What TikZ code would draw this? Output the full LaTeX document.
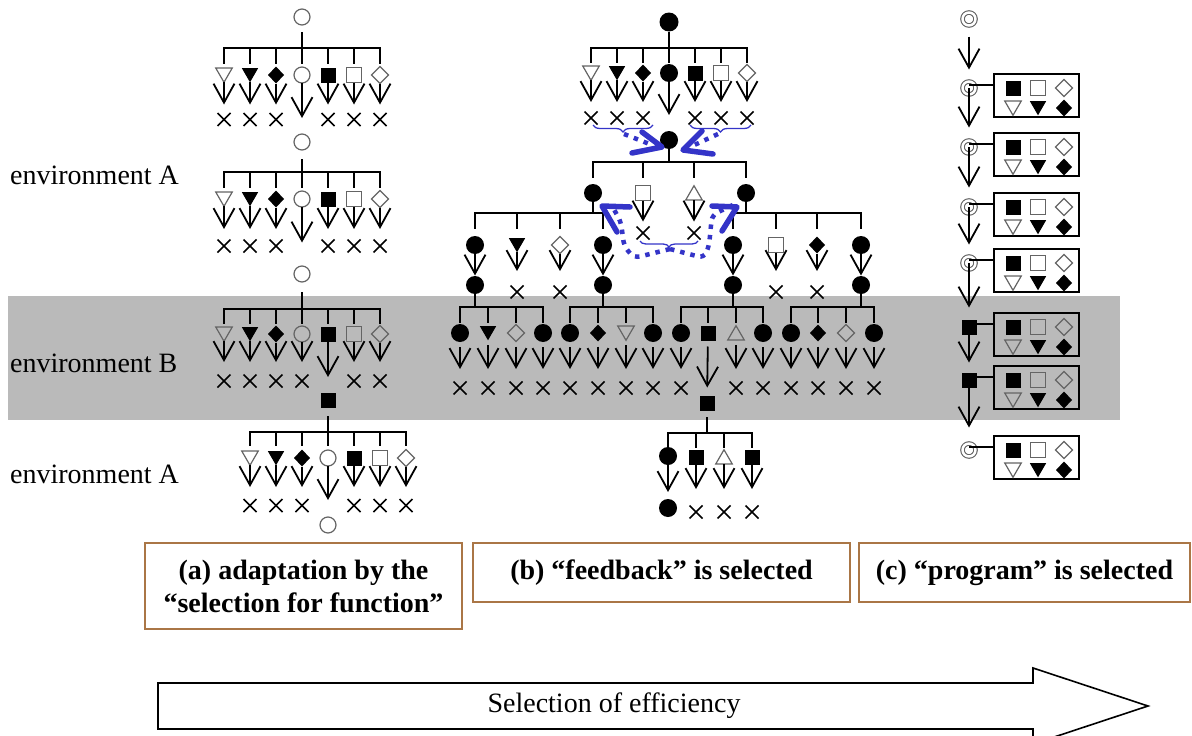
\documentclass[tikz,border=0pt]{standalone}
\usepackage{fontspec}
\setmainfont{Liberation Serif}
\usetikzlibrary{arrows.meta,shapes.geometric,shapes.misc,decorations.pathreplacing}
\definecolor{symgray}{RGB}{100,100,100}
\definecolor{bandgray}{RGB}{186,186,186}
\definecolor{bl}{RGB}{52,52,200}
\definecolor{boxbrown}{RGB}{170,118,70}

\newcommand\rowseven[5]{%
  \foreach \sty [count=\i] in {oDT,bDT,bD,#5,bS,oS,oD}
    \node[\sty] (#1\i) at ({#2+(\i-1)*#3},#4) {};}
\newcommand\xrow[7]{%
  \foreach \i in {#5} {%
    \node[xm] (#1x\i) at ({#2+(\i-1)*#3},#4) {};
    \draw[arr,shorten <=#6pt,shorten >=#7pt] (#1\i) -- (#1x\i);}}
\newcommand\mytree[7]{%
  \path (0,#3) coordinate (barpt);
  \draw[tree,shorten <=#2pt] (#1) -- (#1 |- barpt);
  \draw[tree] (#4 |- barpt) -- (#5 |- barpt);
  \foreach \cc in {#6} \draw[tree] (\cc |- barpt) -- ++(0,#7);}

\begin{document}
\begin{tikzpicture}[x=1pt,y=-1pt,
  sym/.style={inner sep=0pt,outer sep=0pt,line width=1.2pt},
  oDT/.style={sym,regular polygon,regular polygon sides=3,shape border rotate=180,minimum size=19pt,draw=symgray,yshift=2.2pt},
  bDT/.style={sym,regular polygon,regular polygon sides=3,shape border rotate=180,minimum size=19pt,fill=black,yshift=2.2pt},
  oUT/.style={sym,regular polygon,regular polygon sides=3,minimum size=19pt,draw=symgray,yshift=-2.2pt},
  oC/.style={sym,circle,minimum size=16pt,draw=symgray},
  bC/.style={sym,circle,minimum size=18pt,fill=black},
  dC/.style={sym,circle,minimum size=13pt,draw=symgray,line width=1.1pt,double=white,double distance=2.4pt},
  bS/.style={sym,rectangle,minimum size=15pt,fill=black},
  oS/.style={sym,rectangle,minimum size=15pt,draw=symgray},
  bD/.style={sym,diamond,minimum width=16pt,minimum height=17pt,fill=black},
  oD/.style={sym,diamond,minimum width=17pt,minimum height=17pt,draw=symgray},
  xm/.style={cross out,draw,line width=1.5pt,minimum size=11.5pt,inner sep=0pt},
  tree/.style={line width=1.8pt,line cap=rect},
  arr/.style={line width=1.8pt,-{Straight Barb[length=19pt,width=21pt]}},
  ibox/.style={draw,line width=1.7pt,minimum width=85pt,minimum height=43pt,inner sep=0pt},
  bthick/.style={draw=bl,line width=5.5pt,line join=round,line cap=round},
  bdot/.style={draw=bl,line width=4.5pt,dash pattern=on 4.5pt off 6pt},
  bbrace/.style={draw=bl,line width=1.3pt,decorate,decoration={brace,mirror,amplitude=7pt}},
  envt/.style={font=\fontsize{28}{32}\selectfont,inner sep=0pt},
  lab/.style={draw=boxbrown,line width=1.6pt,inner sep=0pt,align=center,font=\bfseries\fontsize{28}{33}\selectfont}
]
\useasboundingbox (0,0) rectangle (1192,736);
\fill[bandgray] (8,296) rectangle (1120,420);

% ---------- panel (a) ----------
\node[oC] (a0) at (302,17) {};
\node[oC] (a1) at (302,142) {};
\node[oC] (a2) at (302,274) {};
\node[bS] (a3) at (328,400) {};
\node[oC] (a4) at (328,525) {};
\rowseven{A1}{224}{26}{75}{oC}
\rowseven{A2}{224}{26}{199}{oC}
\rowseven{A3}{224}{26}{334}{oC}
\rowseven{A4}{250}{26}{458}{oC}
\mytree{a0}{8}{48}{A11}{A17}{A11,A12,A13,A14,A15,A16,A17}{15}
\mytree{a1}{10}{172}{A21}{A27}{A21,A22,A23,A24,A25,A26,A27}{15}
\mytree{a2}{11}{309}{A31}{A37}{A31,A32,A33,A34,A35,A36,A37}{14}
\mytree{a3}{9}{432}{A41}{A47}{A41,A42,A43,A44,A45,A46,A47}{13}
\xrow{A1}{224}{26}{119.5}{1,2,3,5,6,7}{0}{8.5}
\xrow{A2}{224}{26}{246}{1,2,3,5,6,7}{0}{10.5}
\xrow{A3}{224}{26}{381}{1,2,3,4,6,7}{0}{12.5}
\xrow{A4}{250}{26}{505.5}{1,2,3,5,6,7}{0}{12}
\draw[arr,shorten >=16pt] (A14) -- (a1);
\draw[arr,shorten >=23.5pt] (A24) -- (a2);
\draw[arr,shorten >=15.5pt] (A35) -- (a3);
\draw[arr,shorten >=17pt] (A44) -- (a4);

% ---------- panel (b) ----------
\node[bC,minimum size=19pt] (b0) at (669,22) {};
\rowseven{B1}{591}{26}{73}{bC}
\mytree{b0}{1.5}{48}{B11}{B17}{B11,B12,B13,B14,B15,B16,B17}{14}
\xrow{B1}{591}{26}{118}{1,2,3,5,6,7}{0}{9.5}
\node[bC] (b1) at (669,140) {};
\draw[arr,shorten >=16pt] (B14) -- (b1);

\node[bC] (L21) at (593,193) {};
\node[oS] (L22) at (643,193) {};
\node[oUT] (L23) at (694,193) {};
\node[bC] (L24) at (746,193) {};
\mytree{b1}{0}{162}{L21}{L24}{L21,L22,L23,L24}{15}
\node[xm] (L22x) at (643,233) {};
\node[xm] (L23x) at (694,233) {};
\draw[arr,shorten >=5pt] (L22) -- (L22x);
\draw[arr,shorten >=5pt] (L23) -- (L23x);

\node[bC] (C1) at (475,245) {};
\node[bDT] (C2) at (517,245) {};
\node[oD] (C3) at (560,245) {};
\node[bC] (C4) at (603,245) {};
\mytree{L21}{0}{213}{C1}{C4}{C1,C2,C3,C4}{15}
\node[bC] (D1) at (733,245) {};
\node[oS] (D2) at (776,245) {};
\node[bD] (D3) at (817,245) {};
\node[bC] (D4) at (861,245) {};
\mytree{L24}{0}{213}{D1}{D4}{D1,D2,D3,D4}{15}

\node[bC] (P1) at (475,285) {};
\node[bC] (P2) at (603,285) {};
\node[bC] (P3) at (733,285) {};
\node[bC] (P4) at (861,285) {};
\node[xm] (C2x) at (517,292) {};
\node[xm] (C3x) at (560,292) {};
\node[xm] (D2x) at (776,292) {};
\node[xm] (D3x) at (817,292) {};
\draw[arr,shorten >=0.5pt] (C1) -- (P1);
\draw[arr,shorten >=0.5pt] (C4) -- (P2);
\draw[arr,shorten >=0.5pt] (D1) -- (P3);
\draw[arr,shorten >=0.5pt] (D4) -- (P4);
\foreach \g in {C2,C3,D2,D3} \draw[arr,shorten >=14.5pt] (\g) -- (\g x);

\foreach \n/\x/\sty in {E1/460/bC,E2/488/bDT,E3/516/oD,E4/543/bC,
                        F1/570/bC,F2/598/bD,F3/626/oDT,F4/653/bC,
                        G1/681/bC,G2/708/bS,G3/736/oUT,G4/763/bC,
                        H1/791/bC,H2/818/bD,H3/846/oD,H4/874/bC}
  \node[\sty] (\n) at (\x,333) {};
\mytree{P1}{0}{307}{E1}{E4}{E1,E2,E3,E4}{15}
\mytree{P2}{0}{307}{F1}{F4}{F1,F2,F3,F4}{15}
\mytree{P3}{0}{307}{G1}{G4}{G1,G2,G3,G4}{15}
\mytree{P4}{0}{307}{H1}{H4}{H1,H2,H3,H4}{15}
\foreach \n/\x in {E1/460,E2/488,E3/516,E4/543,F1/570,F2/598,F3/626,F4/653,
                   G1/681,G3/736,G4/763,H1/791,H2/818,H3/846,H4/874} {
  \node[xm] (x\n) at (\x,388) {};
  \draw[arr,shorten <=5pt,shorten >=12.5pt] (\n) -- (x\n);}

\node[bS] (b4) at (707,403) {};
\draw[arr,shorten <=6pt,shorten >=8pt] (G2) -- (b4);
\node[bC] (I1) at (668,456) {};
\node[bS] (I2) at (696,457) {};
\node[oUT] (I3) at (724,457) {};
\node[bS] (I4) at (752,457) {};
\mytree{b4}{7}{433}{I1}{I4}{I1,I2,I3,I4}{14}
\node[bC] (b5) at (668,508) {};
\draw[arr,shorten >=7pt] (I1) -- (b5);
\foreach \n/\x in {I2/696,I3/724,I4/752} {
  \node[xm] (x\n) at (\x,512) {};
  \draw[arr,shorten >=16.5pt] (\n) -- (x\n);}

% blue annotations
\draw[bbrace] (593,125) -- (653,125);
\draw[bbrace] (690,125) -- (751,125);
\draw[bbrace,decoration={brace,mirror,amplitude=6pt}] (640,241) -- (698,241);
\draw[bdot] (624,134) -- (652,145);
\draw[bthick] (642,132) -- (662,147) -- (632,153);
\draw[bdot] (718,134) -- (690,147);
\draw[bthick] (702,131) -- (683,150) -- (713,154);
\draw[bdot,rounded corners=6pt] (670,249) -- (634,258) -- (624,246) -- (621,222) -- (612,206);
\draw[bthick] (630,207) -- (602,206) -- (617,232);
\draw[bdot,rounded corners=6pt] (670,249) -- (704,258) -- (709,246) -- (712,215) -- (733,205);
\draw[bthick] (712,206) -- (737,207) -- (722,231);

% ---------- panel (c) ----------
\node[dC] (c0) at (969,19) {};
\foreach \k/\y/\sty in {1/88/dC,2/147/dC,3/207/dC,4/263/dC,5/327/bS,6/380/bS,7/450/dC} {
  \node[\sty] (c\k) at (969,\y) {};
  \node[ibox] (k\k) at (1036.5,{\y+7.5}) {};
  \node[bS] (k\k-1) at (1013,\y) {};
  \node[oS] (k\k-2) at (1038,\y) {};
  \node[oD] (k\k-3) at (1064,\y) {};
  \node[oDT] (k\k-4) at (1013,{\y+20}) {};
  \node[bDT] (k\k-5) at (1038,{\y+20}) {};
  \node[bD] (k\k-6) at (1064,{\y+20}) {};
  \draw[tree,line cap=butt] ([yshift=3pt]c\k.center) -- ([yshift=3pt]c\k.center -| k\k.west);
}
\draw[arr,shorten <=11pt,shorten >=12pt] (c0) -- (c1);
\draw[arr,shorten >=13pt] (c1.center) -- (c2);
\draw[arr,shorten >=13pt] (c2.center) -- (c3);
\draw[arr,shorten >=12pt] (c3.center) -- (c4);
\draw[arr,shorten >=12pt] (c4.center) -- (c5);
\draw[arr,shorten >=10pt] (c5.center) -- (c6);
\draw[arr,shorten >=16pt] (c6.center) -- (c7);

% ---------- texts ----------
\node[envt,anchor=base west] (eA1) at (10,184) {environment A};
\node[envt,anchor=base west] (eB) at (10,372) {environment B};
\node[envt,anchor=base west] (eA2) at (10,483) {environment A};

\node[lab,minimum width=317pt,minimum height=86pt] (la) at (303.5,586) {(a) adaptation by the\\“selection for function”};
\node[lab,minimum width=377pt,minimum height=59pt] (lb) at (661.5,572.5) {(b) “feedback” is selected};
\node[lab,minimum width=331pt,minimum height=59pt] (lc) at (1024.5,572.5) {(c) “program” is selected};

\draw[line width=1.6pt,line join=miter] (158,683) -- (1033,683) -- (1033,668) -- (1148,706) -- (1033,744) -- (1033,729) -- (158,729) -- cycle;
\node[envt] (sel) at (614,706) {Selection of efficiency};
\end{tikzpicture}
\end{document}
